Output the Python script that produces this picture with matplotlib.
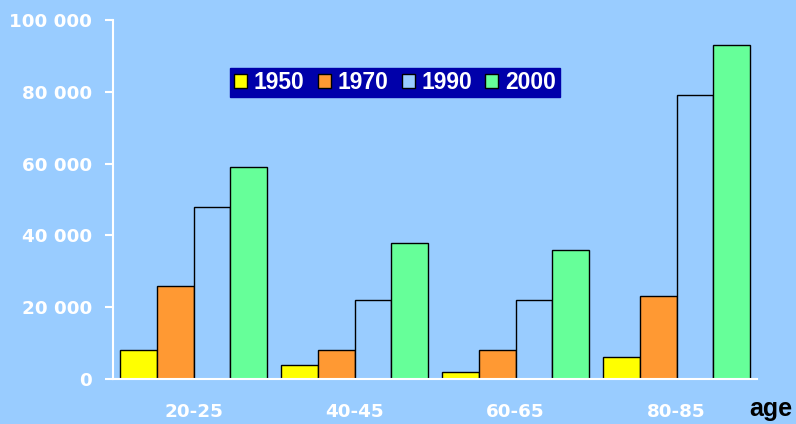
import numpy as np
import matplotlib.pyplot as plt
from matplotlib.ticker import FuncFormatter

ages = ["20-25", "40-45", "60-65", "80-85"]
years = ["1950", "1970", "1990", "2000"]
v1950 = [8000, 4000, 2000, 6000]
v1970 = [26000, 8000, 8000, 23000]
v1990 = [48000, 22000, 22000, 79000]
v2000 = [59000, 38000, 36000, 93000]

bg = "#99CCFF"
colors = ["#FFFF00", "#FF9933", bg, "#66FF99"]
plt.rcParams["font.family"] = ["Liberation Sans", "DejaVu Sans"]

fig = plt.figure(figsize=(7.96, 4.24), dpi=100, facecolor=bg)
ax = fig.add_axes([113 / 796, 1 - 379 / 424, 644 / 796, 359 / 424])
ax.set_facecolor(bg)

x = np.arange(len(ages))
w = 0.227
for i, (vals, c, lab) in enumerate(zip([v1950, v1970, v1990, v2000], colors, years)):
    ax.bar(x + (i - 1.5) * w, vals, w, color=c, edgecolor="black", linewidth=1.0, label=lab)

ax.set_xlim(-0.5, 3.5)
ax.set_ylim(0, 100000)
ax.set_yticks(range(0, 100001, 20000))
ax.yaxis.set_major_formatter(FuncFormatter(lambda v, p: f"{int(v):,}".replace(",", " ")))
ax.set_xticks(x)
ax.set_xticklabels(ages)

for s in ["top", "right"]:
    ax.spines[s].set_visible(False)
for s in ["left", "bottom"]:
    ax.spines[s].set_color("white")
    ax.spines[s].set_linewidth(1.5)

# tick labels are spaced wide, DejaVu bold gives about the same width
ax.tick_params(axis="y", colors="white", length=6, width=1.5, pad=9)
ax.tick_params(axis="x", colors="white", length=0, pad=17)
for t in ax.get_xticklabels() + ax.get_yticklabels():
    t.set_fontweight("bold")
    t.set_fontfamily("DejaVu Sans")
    t.set_fontsize(13.2)

fig.text(771 / 796, 1 - 416 / 424, "age", ha="center", va="baseline",
         fontsize=18, fontweight="bold", color="black")

leg = ax.legend(loc="center", bbox_to_anchor=((395 - 113) / 644, (379 - 82.5) / 359),
                ncol=4, frameon=True, fancybox=False, prop={"weight": "bold", "size": 16.5},
                handlelength=0.57, handleheight=0.57, handletextpad=0.3, columnspacing=0.57,
                borderpad=0.15, borderaxespad=0, labelcolor="white")
leg.get_frame().set_facecolor("#0000AA")
leg.get_frame().set_edgecolor("#0000AA")
leg.get_frame().set_alpha(1)

fig.savefig("out.png", dpi=100, facecolor=bg)
